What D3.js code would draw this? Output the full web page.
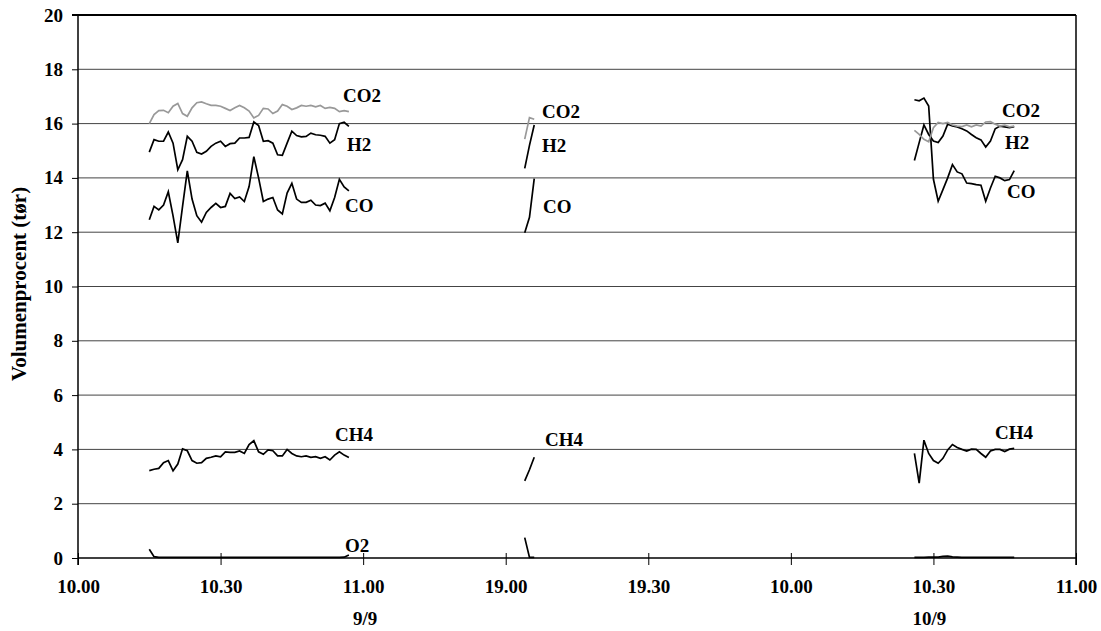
<!DOCTYPE html>
<html>
<head>
<meta charset="utf-8">
<script src="https://cdn.jsdelivr.net/npm/d3@7/dist/d3.min.js"></script>
<style>
  body { margin: 0; background: #fff; }
  svg text { font-family: "Liberation Serif", "DejaVu Serif", serif; font-weight: bold; }
</style>
</head>
<body>
<div id="chart"></div>
<script>
// x axis runs in minutes from the first tick (10.00 on 9/9), one tick per half hour
const xTickLabels = ['10.00', '10.30', '11.00', '19.00', '19.30', '10.00', '10.30', '11.00'];
const dayLabels = ['9/9', '10/9'];
const yTicks = [0, 2, 4, 6, 8, 10, 12, 14, 16, 18, 20];

// first minute of each measuring run, one sample per minute
const segStart = [15, 94, 176];

const co2_1 = [16.0, 16.33, 16.48, 16.49, 16.40, 16.64, 16.74, 16.37, 16.27, 16.58, 16.77, 16.80, 16.73, 16.67,
  16.67, 16.64, 16.56, 16.48, 16.58, 16.67, 16.58, 16.46, 16.21, 16.30, 16.56, 16.54, 16.37, 16.46, 16.70,
  16.64, 16.52, 16.58, 16.67, 16.64, 16.67, 16.62, 16.67, 16.56, 16.60, 16.56, 16.44, 16.48, 16.44];
const co2_2 = [15.43, 16.22, 16.16];
const co2_3 = [15.75, 15.60, 15.42, 15.33, 15.85, 16.04, 16.00, 16.04, 15.95, 15.91, 15.89, 15.95, 15.88,
  15.95, 15.91, 16.06, 16.07, 15.98, 15.91, 15.94, 15.88, 15.91];

const h2_1 = [14.95, 15.41, 15.35, 15.35, 15.69, 15.28, 14.30, 14.67, 15.53, 15.35, 14.94, 14.88, 14.98, 15.16,
  15.28, 15.35, 15.16, 15.26, 15.28, 15.47, 15.47, 15.49, 16.06, 15.93, 15.35, 15.37, 15.28, 14.85, 14.83,
  15.28, 15.72, 15.56, 15.51, 15.53, 15.65, 15.59, 15.57, 15.53, 15.28, 15.41, 16.00, 16.05, 15.90];
const h2_2 = [14.35, 15.2, 15.95];
const h2_3 = [14.64, 15.30, 15.95, 15.60, 15.36, 15.30, 15.54, 15.98, 15.91, 15.88, 15.81, 15.73, 15.60,
  15.48, 15.40, 15.14, 15.36, 15.81, 15.91, 15.88, 15.85, 15.89];

const co_1 = [12.46, 12.95, 12.82, 13.00, 13.49, 12.6, 11.61, 12.95, 14.26, 13.22, 12.61, 12.37, 12.73, 12.91,
  13.06, 12.91, 12.95, 13.43, 13.24, 13.30, 13.13, 13.68, 14.78, 14.0, 13.13, 13.22, 13.28, 12.82, 12.67,
  13.44, 13.80, 13.22, 13.10, 13.10, 13.18, 13.00, 12.98, 13.07, 12.79, 13.28, 13.95, 13.67, 13.52];
const co_2 = [11.98, 12.55, 13.97];
const co_3 = [16.88, 16.84, 16.94, 16.65, 13.95, 13.14, 13.57, 14.0, 14.49, 14.22, 14.15, 13.81, 13.79,
  13.75, 13.73, 13.14, 13.63, 14.06, 14.00, 13.90, 13.94, 14.27];

const ch4_1 = [3.22, 3.27, 3.30, 3.51, 3.59, 3.21, 3.46, 4.02, 3.95, 3.59, 3.49, 3.51, 3.67, 3.71, 3.76, 3.73,
  3.91, 3.89, 3.89, 3.94, 3.85, 4.18, 4.32, 3.91, 3.82, 3.98, 3.95, 3.76, 3.76, 4.00, 3.85, 3.76, 3.73, 3.76,
  3.71, 3.73, 3.67, 3.73, 3.61, 3.79, 3.91, 3.79, 3.70];
const ch4_2 = [2.84, 3.25, 3.71];
const ch4_3 = [3.85, 2.76, 4.34, 3.85, 3.59, 3.49, 3.67, 3.98, 4.18, 4.07, 4.00, 3.94, 4.01, 4.00, 3.85,
  3.71, 3.94, 4.00, 4.00, 3.92, 4.01, 4.04];

const o2_1 = [0.32, 0.05, 0.02, 0.02, 0.02, 0.02, 0.02, 0.02, 0.02, 0.02, 0.02, 0.02, 0.02, 0.02, 0.02, 0.02,
  0.02, 0.02, 0.02, 0.02, 0.02, 0.02, 0.02, 0.02, 0.02, 0.02, 0.02, 0.02, 0.02, 0.02, 0.02, 0.02, 0.02, 0.02,
  0.02, 0.02, 0.02, 0.02, 0.02, 0.02, 0.02, 0.03, 0.11];
const o2_2 = [0.75, 0.02, 0.02];
const o2_3 = [0.02, 0.02, 0.02, 0.03, 0.03, 0.03, 0.06, 0.07, 0.04, 0.03, 0.02, 0.02, 0.02, 0.02, 0.02,
  0.02, 0.02, 0.02, 0.02, 0.02, 0.02, 0.02];

const series = [
  { name: 'O2', color: '#000', runs: [o2_1, o2_2, o2_3] },
  { name: 'CH4', color: '#000', runs: [ch4_1, ch4_2, ch4_3] },
  { name: 'CO', color: '#000', runs: [co_1, co_2, co_3] },
  { name: 'H2', color: '#000', runs: [h2_1, h2_2, h2_3] },
  { name: 'CO2', color: '#999', runs: [co2_1, co2_2, co2_3] },
];

// where the series names sit (left x, baseline y)
const nameLabels = [
  ['CO2', 343, 102], ['H2', 347, 151], ['CO', 345, 212], ['CH4', 335, 441], ['O2', 345, 552],
  ['CO2', 542, 118], ['H2', 542, 152], ['CO', 543, 213], ['CH4', 545, 446],
  ['CO2', 1002, 117], ['H2', 1005, 149], ['CO', 1007, 198], ['CH4', 995, 439],
];

const width = 1101;
const height = 631;
const plot = { left: 78, right: 1076, top: 15, bottom: 558 };
const fontSize = 19;

const svg = d3.select('#chart')
  .append('svg')
  .attr('width', width)
  .attr('height', height);

const x = d3.scaleLinear().domain([0, 210]).range([plot.left, plot.right]);
const y = d3.scaleLinear().domain([0, 20]).range([plot.bottom, plot.top]);

// gridlines
svg.append('g')
  .selectAll('line')
  .data(yTicks.filter((d) => d > 0 && d < 20))
  .enter()
  .append('line')
  .attr('x1', plot.left)
  .attr('x2', plot.right)
  .attr('y1', (d) => y(d))
  .attr('y2', (d) => y(d))
  .attr('stroke', '#444')
  .attr('stroke-width', 1);

// y axis
const yAxis = svg.append('g')
  .attr('transform', `translate(${plot.left},0)`)
  .call(d3.axisLeft(y).tickValues(yTicks).tickSize(6).tickSizeOuter(0).tickPadding(9)
    .tickFormat(d3.format('d')));
yAxis.select('.domain').remove();
yAxis.selectAll('text').style('font-size', `${fontSize}px`).attr('fill', '#000');
yAxis.selectAll('line').attr('stroke', '#000');

// x axis
const xAxis = svg.append('g')
  .attr('transform', `translate(0,${plot.bottom})`)
  .call(d3.axisBottom(x).tickValues(d3.range(0, 211, 30)).tickSize(7).tickSizeOuter(0).tickPadding(15)
    .tickFormat((d, i) => xTickLabels[i]));
xAxis.select('.domain').remove();
xAxis.selectAll('line').attr('y1', -5).attr('stroke', '#000');
xAxis.selectAll('text').style('font-size', `${fontSize}px`).attr('fill', '#000');

// frame: top and right border, axis lines
svg.append('line')
  .attr('x1', plot.left - 6).attr('x2', plot.right)
  .attr('y1', plot.top).attr('y2', plot.top)
  .attr('stroke', '#000').attr('stroke-width', 2);
svg.append('line')
  .attr('x1', plot.right).attr('x2', plot.right)
  .attr('y1', plot.top).attr('y2', plot.bottom + 7)
  .attr('stroke', '#000').attr('stroke-width', 1.5);
svg.append('line')
  .attr('x1', plot.left).attr('x2', plot.left)
  .attr('y1', plot.top).attr('y2', plot.bottom + 7)
  .attr('stroke', '#000').attr('stroke-width', 1.5);
svg.append('line')
  .attr('x1', plot.left).attr('x2', plot.right)
  .attr('y1', plot.bottom).attr('y2', plot.bottom)
  .attr('stroke', '#000').attr('stroke-width', 1.5);

// day labels under the ticks
svg.append('g')
  .selectAll('text')
  .data(dayLabels)
  .enter()
  .append('text')
  .attr('x', (d, i) => (i === 0 ? x(60) + 2 : x(180) - 4))
  .attr('y', 625)
  .attr('text-anchor', 'middle')
  .style('font-size', `${fontSize}px`)
  .text((d) => d);

// y axis title
svg.append('text')
  .attr('transform', 'translate(26,284) rotate(-90)')
  .attr('text-anchor', 'middle')
  .style('font-size', '21px')
  .text('Volumenprocent (tør)');

// the gas curves, one path per run
const line = d3.line()
  .x((d) => x(d.t))
  .y((d) => y(d.v));

series.forEach((s) => {
  s.runs.forEach((run, i) => {
    svg.append('path')
      .datum(run.map((v, j) => ({ t: segStart[i] + j, v })))
      .attr('fill', 'none')
      .attr('stroke', s.color)
      .attr('stroke-width', 1.7)
      .attr('stroke-linejoin', 'miter')
      .attr('d', line);
  });
});

svg.append('g')
  .selectAll('text')
  .data(nameLabels)
  .enter()
  .append('text')
  .attr('x', (d) => d[1])
  .attr('y', (d) => d[2])
  .style('font-size', `${fontSize}px`)
  .text((d) => d[0]);
</script>
</body>
</html>
